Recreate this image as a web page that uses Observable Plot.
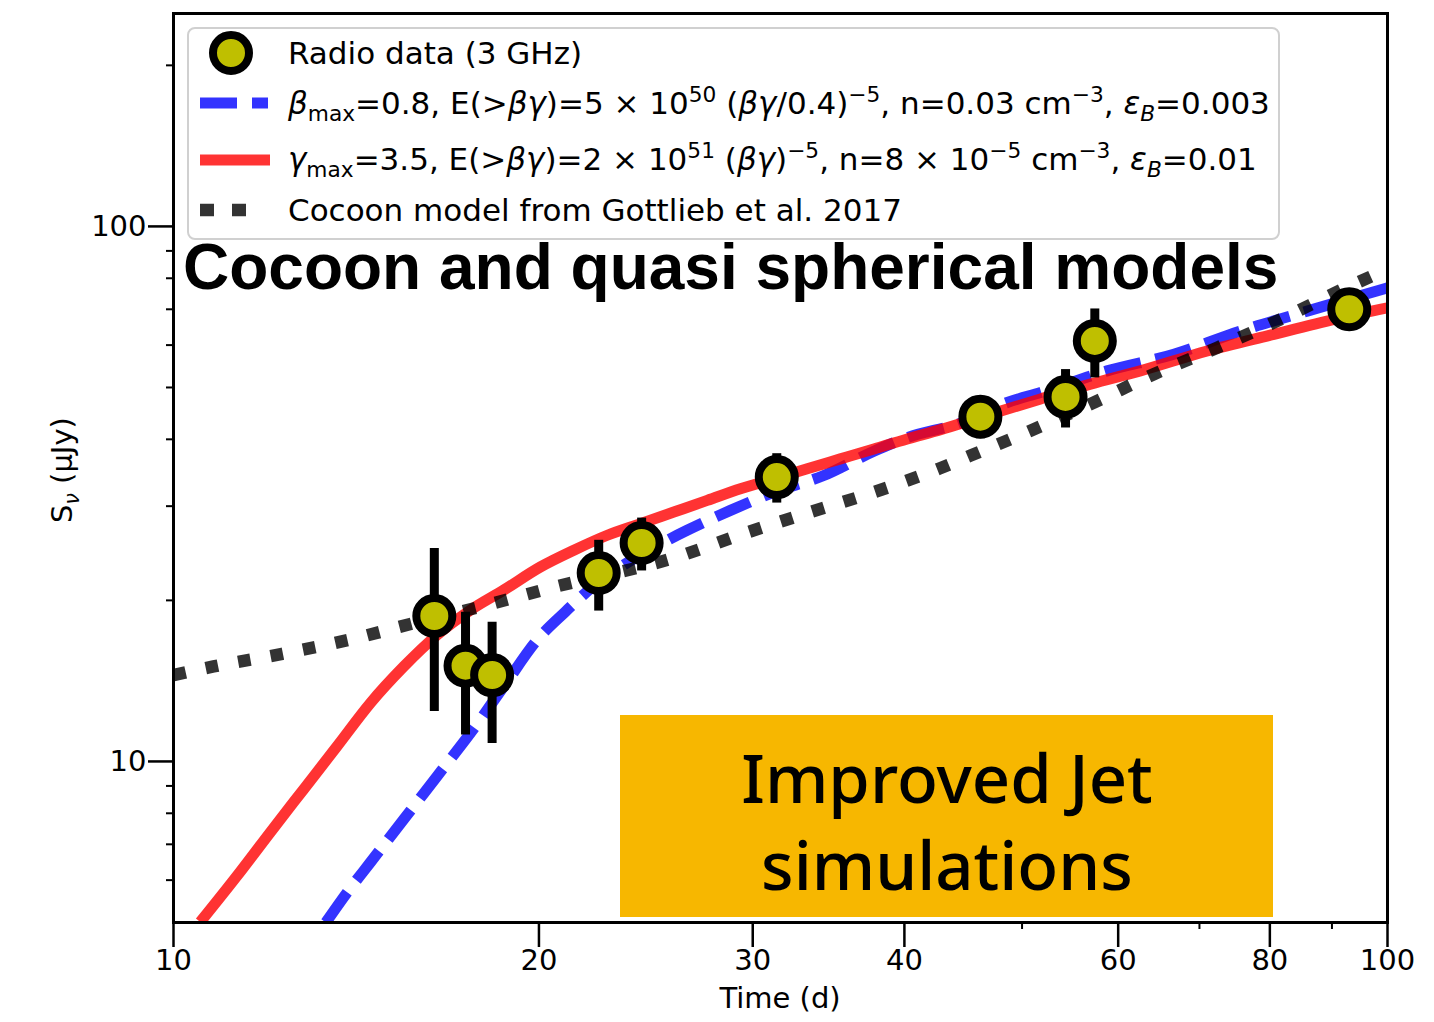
<!DOCTYPE html>
<html>
<head>
<meta charset="utf-8">
<script src="https://cdn.jsdelivr.net/npm/d3@7"></script>
<script src="https://cdn.jsdelivr.net/npm/@observablehq/plot@0.6"></script>
<style>
  html, body { margin: 0; padding: 0; background: #fff; }
  #chart svg { display: block; }
</style>
</head>
<body>
<div id="chart"></div>
<script>
// VLA 3 GHz radio light curve (days since merger, flux density in μJy, 1σ error)
const radioDays = [16.4, 17.4, 18.3, 22.4, 24.3, 31.4, 46.2, 54.3, 57.4, 93.0];
const radioFlux = [18.7, 15.1, 14.5, 22.5, 25.6, 34.0, 44.1, 48.0, 61.1, 70.0];
const radioErr  = [6.3, 3.9, 3.7, 3.4, 2.9, 3.6, 4.0, 6.0, 9.0, 5.7];

// Quasi-spherical outflow, βmax = 0.8
const betaDays = [13.35, 13.90, 14.53, 15.48, 16.49, 17.57, 18.71, 19.93, 21.03, 22.20, 23.49, 25.02, 26.49, 28.76, 31.23, 34.33, 37.75, 40.22, 44.49, 48.62, 51.79, 58.75, 66.68, 75.67, 85.86, 100];
const betaFlux = [5.0, 5.69, 6.48, 7.80, 9.39, 11.31, 13.81, 16.87, 19.05, 21.3, 23.3, 25.3, 27.04, 29.46, 31.86, 34.23, 38.0, 40.3, 42.9, 46.87, 48.94, 53.70, 57.69, 63.75, 69.45, 76.75];

// Quasi-spherical outflow, γmax = 3.5
const gammaDays = [10.52, 11.28, 12.02, 12.80, 13.64, 14.53, 15.48, 16.49, 17.57, 18.71, 20.06, 21.37, 22.77, 24.25, 25.83, 27.52, 29.31, 31.23, 33.27, 35.43, 37.75, 40.22, 42.84, 46.22, 51.79, 56.93, 62.58, 71.04, 80.61, 91.47, 100];
const gammaFlux = [5.01, 6.11, 7.38, 8.87, 10.68, 12.86, 15.05, 17.24, 19.19, 20.91, 23.10, 24.82, 26.47, 27.83, 29.25, 30.75, 32.33, 33.75, 35.24, 36.77, 38.38, 40.07, 41.7, 44.0, 47.6, 50.72, 53.70, 58.51, 62.85, 67.49, 70.45];

// Cocoon model (Gottlieb et al. 2017)
const cocoonDays = [10, 10.79, 12.29, 13.94, 15.77, 17.90, 20.38, 25.99, 29.49, 33.47, 37.75, 42.70, 45.35, 50.81, 57.30, 64.19, 72.40, 81.63, 91.77, 100];
const cocoonFlux = [14.5, 15.05, 15.89, 16.87, 18.13, 19.46, 21.06, 24.12, 26.66, 29.25, 31.86, 35.24, 37.30, 41.52, 46.87, 52.94, 59.34, 67.04, 76.23, 83.18];

// Axis ticks
const xMajorTicks = [10, 20, 30, 40, 60, 80, 100];
const xMinorTicks = [50, 70, 90];
const yMajorTicks = [10, 100];
const yMinorTicks = [6, 7, 8, 9, 20, 30, 40, 50, 60, 70, 80, 90, 200];

const rows = (xs, ys) => xs.map((t, i) => ({t, s: ys[i]}));
const radio = radioDays.map((t, i) => ({
  t, s: radioFlux[i], lo: radioFlux[i] - radioErr[i], hi: radioFlux[i] + radioErr[i]
}));

const RED = "#ff0000", BLUE = "#0000ff", BLACK = "#000000", ALPHA = 0.8;
const blueLine = {stroke: BLUE, strokeOpacity: ALPHA, strokeWidth: 11, strokeDasharray: "37,15", strokeLinecap: "butt", curve: "monotone-x"};
const redLine = {stroke: RED, strokeOpacity: ALPHA, strokeWidth: 11, strokeLinecap: "butt", curve: "monotone-x"};
const cocoonLine = {stroke: BLACK, strokeOpacity: ALPHA, strokeWidth: 12.5, strokeDasharray: "12.5,20.5", strokeLinecap: "butt", curve: "monotone-x"};

const chart = Plot.plot({
  width: 1434,
  height: 1022,
  marginLeft: 173,
  marginRight: 47,
  marginTop: 13,
  marginBottom: 100,
  style: {fontFamily: "'DejaVu Sans', sans-serif", fontSize: "28px", background: "#fff", color: "#000"},
  x: {type: "log", domain: [10, 100], label: null},
  y: {type: "log", domain: [5, 250], label: null},
  marks: [
    Plot.line(rows(betaDays, betaFlux), {x: "t", y: "s", ...blueLine, clip: true}),
    Plot.line(rows(gammaDays, gammaFlux), {x: "t", y: "s", ...redLine, clip: true}),
    Plot.line(rows(cocoonDays, cocoonFlux), {x: "t", y: "s", ...cocoonLine, clip: true}),
    Plot.ruleX(radio, {x: "t", y1: "lo", y2: "hi", stroke: "#000", strokeWidth: 9}),
    Plot.dot(radio, {x: "t", y: "s", r: 18, fill: "#bfbf00", stroke: "#000", strokeWidth: 8}),
    Plot.frame({stroke: "#000", strokeWidth: 3}),
    Plot.axisX({ticks: xMajorTicks, tickFormat: d => String(d), tickSize: 25, tickPadding: 2, strokeWidth: 2.5, fontSize: 29, label: null}),
    Plot.axisX({ticks: xMinorTicks, tickFormat: () => "", tickSize: 7, strokeWidth: 2, label: null}),
    Plot.axisY({ticks: yMajorTicks, tickFormat: d => String(d), tickSize: 25, tickPadding: 2, strokeWidth: 2.5, fontSize: 29, label: null}),
    Plot.axisY({ticks: yMinorTicks, tickFormat: () => "", tickSize: 7, strokeWidth: 2, label: null})
  ]
});
document.getElementById("chart").appendChild(chart);

// Text with italic, subscript and superscript runs
function richText(parent, x, y, parts, size, extra = {}) {
  const text = parent.append("text").attr("x", x).attr("y", y).attr("font-size", size);
  for (const [k, v] of Object.entries(extra)) text.attr(k, v);
  let shift = 0;
  for (const [str, kind] of parts) {
    const target = (kind === "sub" || kind === "isub") ? 0.24 * size : kind === "sup" ? -0.4 * size : 0;
    const ts = text.append("tspan").attr("dy", target - shift).text(str);
    shift = target;
    if (kind === "sub" || kind === "sup" || kind === "isub") ts.attr("font-size", size * 0.7);
    if (kind === "i" || kind === "isub") ts.attr("font-style", "italic");
  }
  return text;
}

const svg = d3.select(chart);
const g = svg.append("g")
  .attr("font-family", "'DejaVu Sans', sans-serif")
  .attr("text-anchor", "start")
  .attr("fill", "#000");

// Axis titles
g.append("text").attr("x", 780).attr("y", 1008).attr("text-anchor", "middle").attr("font-size", 29).text("Time (d)");
richText(g, 0, 0, [["S", ""], ["ν", "isub"], [" (μJy)", ""]], 29,
  {"text-anchor": "middle", transform: "translate(72,470) rotate(-90)"});

// Legend
const lg = g.append("g");
lg.append("rect").attr("x", 188).attr("y", 28).attr("width", 1091).attr("height", 211).attr("rx", 7)
  .attr("fill", "#fff").attr("fill-opacity", 0.8).attr("stroke", "#d0d0d0").attr("stroke-width", 2);

const sw = lg.append("g");
sw.append("circle").attr("cx", 231).attr("cy", 53).attr("r", 18).attr("fill", "#bfbf00").attr("stroke", "#000").attr("stroke-width", 8);
sw.append("line").attr("x1", 200).attr("x2", 268).attr("y1", 103).attr("y2", 103)
  .attr("stroke", BLUE).attr("stroke-opacity", ALPHA).attr("stroke-width", 11).attr("stroke-dasharray", "37,15");
sw.append("line").attr("x1", 200).attr("x2", 270).attr("y1", 160).attr("y2", 160)
  .attr("stroke", RED).attr("stroke-opacity", ALPHA).attr("stroke-width", 11);
sw.append("line").attr("x1", 200).attr("x2", 254).attr("y1", 210).attr("y2", 210)
  .attr("stroke", BLACK).attr("stroke-opacity", ALPHA).attr("stroke-width", 12.5).attr("stroke-dasharray", "14,18");

const LX = 288, LS = 31;
richText(lg, LX, 64, [["Radio data (3 GHz)", ""]], LS);
richText(lg, LX, 114, [
  ["β", "i"], ["max", "sub"], ["=0.8, E(>", ""], ["βγ", "i"], [")=5 × 10", ""], ["50", "sup"],
  [" (", ""], ["βγ", "i"], ["/0.4)", ""], ["−5", "sup"], [", n=0.03 cm", ""], ["−3", "sup"],
  [", ", ""], ["ε", "i"], ["B", "isub"], ["=0.003", ""]
], LS);
richText(lg, LX, 170, [
  ["γ", "i"], ["max", "sub"], ["=3.5, E(>", ""], ["βγ", "i"], [")=2 × 10", ""], ["51", "sup"],
  [" (", ""], ["βγ", "i"], [")", ""], ["−5", "sup"], [", n=8 × 10", ""], ["−5", "sup"],
  [" cm", ""], ["−3", "sup"], [", ", ""], ["ε", "i"], ["B", "isub"], ["=0.01", ""]
], LS);
richText(lg, LX, 221, [["Cocoon model from Gottlieb et al. 2017", ""]], LS);

// Annotations
g.append("text").attr("x", 183).attr("y", 289)
  .attr("font-family", "'Liberation Sans', Arial, sans-serif").attr("font-weight", "bold")
  .attr("font-size", 64).text("Cocoon and quasi spherical models");

g.append("rect").attr("x", 620).attr("y", 715).attr("width", 653).attr("height", 202).attr("fill", "#f7b700");
const box = g.append("text").attr("text-anchor", "middle")
  .attr("font-family", "'Noto Sans', sans-serif").attr("font-weight", 500).attr("font-size", 67);
box.append("tspan").attr("x", 947).attr("y", 803).text("Improved Jet");
box.append("tspan").attr("x", 947).attr("y", 890).text("simulations");
</script>
</body>
</html>
